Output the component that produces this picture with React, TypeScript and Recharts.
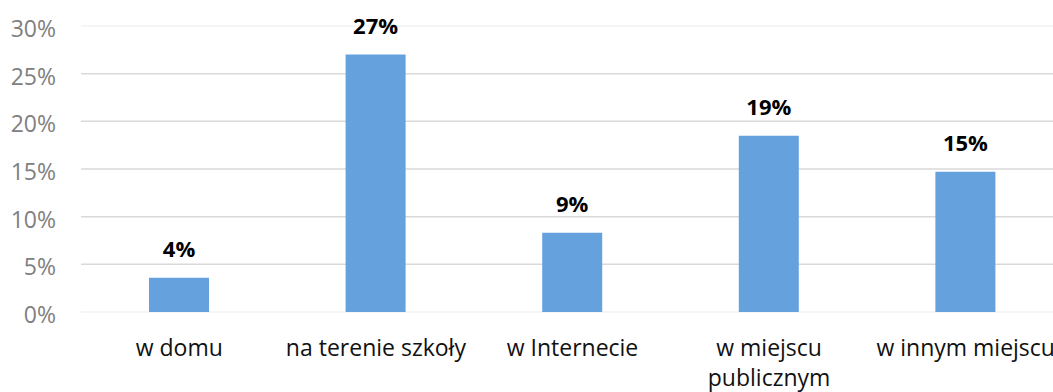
import { BarChart, Bar, XAxis, YAxis, CartesianGrid, LabelList } from "recharts";

const CATEGORIES = ["w domu", "na terenie szkoły", "w Internecie", "w miejscu publicznym", "w innym miejscu"];
const SHARES = [0.036, 0.27, 0.083, 0.185, 0.147];
const SHARE_LABELS = ["4%", "27%", "9%", "19%", "15%"];
const Y_TICKS = [0, 0.05, 0.1, 0.15, 0.2, 0.25, 0.3];

const FONT = "'Open Sans', sans-serif";
const BAR_COLOR = "#65a1dd";
const TICK_SIZE = 23;

const data = CATEGORIES.map((name, i) => ({ name, share: SHARES[i], label: SHARE_LABELS[i] }));

// greedy word wrap, measured with a canvas so it matches the real font
function wrap(text: string, maxWidth: number): string[] {
  const ctx = document.createElement("canvas").getContext("2d");
  if (!ctx) return [text];
  ctx.font = `${TICK_SIZE}px ${FONT}`;
  const lines: string[] = [];
  let cur = "";
  for (const w of text.split(" ")) {
    const next = cur ? `${cur} ${w}` : w;
    if (cur && ctx.measureText(next).width > maxWidth) {
      lines.push(cur);
      cur = w;
    } else {
      cur = next;
    }
  }
  if (cur) lines.push(cur);
  return lines;
}

function CategoryTick(props: any) {
  const { x, y, payload } = props;
  const lines = wrap(String(payload.value), 190);
  return (
    <text x={x} y={y} textAnchor="middle" fill="#111" style={{ fontSize: TICK_SIZE, fontFamily: FONT }}>
      {lines.map((l, i) => (
        <tspan key={i} x={x} dy={i === 0 ? "0.71em" : 30}>
          {l}
        </tspan>
      ))}
    </text>
  );
}

function GridLine(p: any) {
  const edge = p.index === 0 || p.index === Y_TICKS.length - 1;
  return (
    <line
      key={p.key}
      x1={p.x1}
      y1={p.y1}
      x2={p.x2}
      y2={p.y2}
      stroke={edge ? "#f2f2f2" : "#d9d9d9"}
      strokeWidth={1.5}
    />
  );
}

export default function App() {
  return (
    <div style={{ position: "absolute", left: 0, top: 0, width: 1053, height: 392, overflow: "hidden", background: "#fff" }}>
      <BarChart
        width={1066}
        height={392}
        data={data}
        margin={{ top: 26, right: 2, bottom: 0, left: 0 }}
      >
        <CartesianGrid vertical={false} horizontal={GridLine} />
        <XAxis
          dataKey="name"
          axisLine={false}
          tickLine={false}
          height={80}
          tickMargin={22}
          interval={0}
          tick={<CategoryTick />}
        />
        <YAxis
          width={81}
          domain={[0, 0.3]}
          ticks={Y_TICKS}
          axisLine={false}
          tickLine={false}
          tickMargin={19}
          tickFormatter={(v: number) => `${Math.round(v * 100)}%`}
          tick={{ fill: "#808080", fontSize: TICK_SIZE, fontFamily: FONT, dy: 3 }}
        />
        <Bar dataKey="share" fill={BAR_COLOR} barSize={60} isAnimationActive={false}>
          <LabelList
            dataKey="label"
            position="top"
            offset={21}
            style={{ fontSize: 22, fontWeight: 700, fontFamily: FONT, fill: "#000" }}
          />
        </Bar>
      </BarChart>
    </div>
  );
}
